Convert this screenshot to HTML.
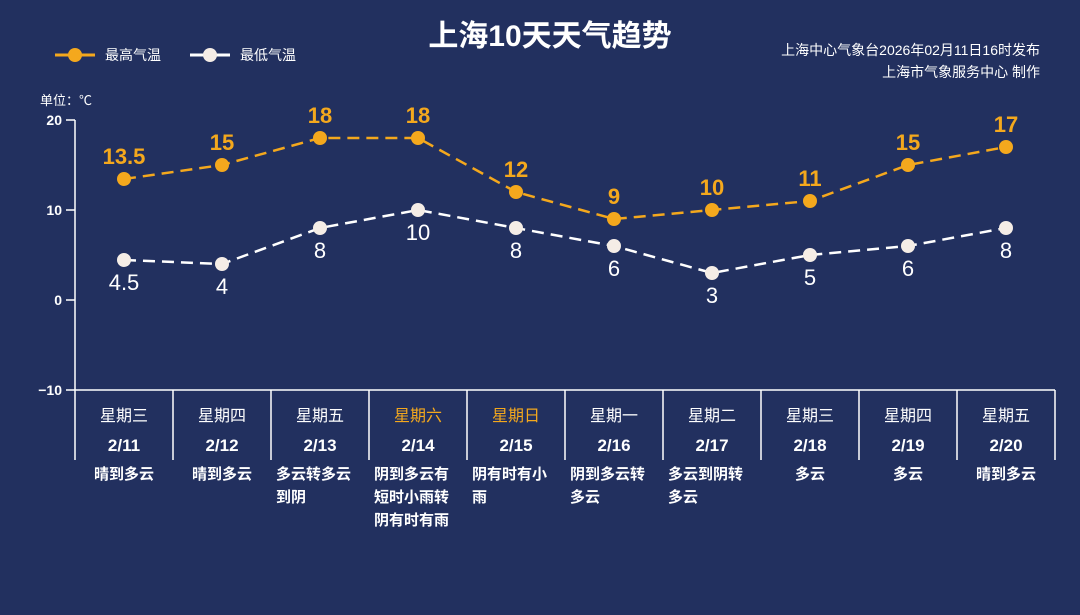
<!DOCTYPE html>
<html><head><meta charset="utf-8"><style>
body{margin:0;width:1080px;height:610px;background:#22305f;overflow:hidden}
svg text{font-family:"Liberation Sans","Noto Sans CJK SC",sans-serif}
</style></head><body>
<svg width="1080" height="610" xmlns="http://www.w3.org/2000/svg">
<rect width="1080" height="610" fill="#22305f"/>
<text x="550" y="46" font-size="30" font-weight="bold" fill="#fff" text-anchor="middle">上海10天天气趋势</text>
<line x1="55" y1="55" x2="95" y2="55" stroke="#f4a81d" stroke-width="3"/><circle cx="75" cy="55" r="7" fill="#f4a81d"/>
<text x="105" y="60" font-size="14" fill="#fff">最高气温</text>
<line x1="190" y1="55" x2="230" y2="55" stroke="#fff" stroke-width="3"/><circle cx="210" cy="55" r="7" fill="#f5ede6"/>
<text x="240" y="60" font-size="14" fill="#fff">最低气温</text>
<text x="1040" y="55" font-size="14" fill="#fff" text-anchor="end">上海中心气象台2026年02月11日16时发布</text>
<text x="1040" y="77" font-size="14" fill="#fff" text-anchor="end">上海市气象服务中心 制作</text>
<text x="40" y="105" font-size="13" fill="#fff">单位：℃</text>
<g stroke="#fff" stroke-width="1.5">
<line x1="75" y1="120" x2="75" y2="460"/>
<line x1="66" y1="120" x2="75" y2="120"/><line x1="66" y1="210" x2="75" y2="210"/><line x1="66" y1="300" x2="75" y2="300"/>
<line x1="66" y1="390" x2="1055" y2="390"/>
<line x1="173" y1="390" x2="173" y2="460"/><line x1="271" y1="390" x2="271" y2="460"/><line x1="369" y1="390" x2="369" y2="460"/><line x1="467" y1="390" x2="467" y2="460"/><line x1="565" y1="390" x2="565" y2="460"/><line x1="663" y1="390" x2="663" y2="460"/><line x1="761" y1="390" x2="761" y2="460"/><line x1="859" y1="390" x2="859" y2="460"/><line x1="957" y1="390" x2="957" y2="460"/><line x1="1055" y1="390" x2="1055" y2="460"/>
</g>
<g font-size="14" font-weight="bold" fill="#fff" text-anchor="end">
<text x="62" y="125">20</text><text x="62" y="215">10</text><text x="62" y="305">0</text><text x="62" y="395">−10</text></g>
<polyline fill="none" stroke="#f4a81d" stroke-width="2.5" stroke-dasharray="12,7" points="124,179 222,165 320,138 418,138 516,192 614,219 712,210 810,201 908,165 1006,147"/>
<polyline fill="none" stroke="#fff" stroke-width="2.5" stroke-dasharray="12,7" points="124,260 222,264 320,228 418,210 516,228 614,246 712,273 810,255 908,246 1006,228"/>
<g fill="#f4a81d"><circle cx="124" cy="179" r="7"/><circle cx="222" cy="165" r="7"/><circle cx="320" cy="138" r="7"/><circle cx="418" cy="138" r="7"/><circle cx="516" cy="192" r="7"/><circle cx="614" cy="219" r="7"/><circle cx="712" cy="210" r="7"/><circle cx="810" cy="201" r="7"/><circle cx="908" cy="165" r="7"/><circle cx="1006" cy="147" r="7"/></g>
<g fill="#f5ede6"><circle cx="124" cy="260" r="7"/><circle cx="222" cy="264" r="7"/><circle cx="320" cy="228" r="7"/><circle cx="418" cy="210" r="7"/><circle cx="516" cy="228" r="7"/><circle cx="614" cy="246" r="7"/><circle cx="712" cy="273" r="7"/><circle cx="810" cy="255" r="7"/><circle cx="908" cy="246" r="7"/><circle cx="1006" cy="228" r="7"/></g>
<g font-size="22" font-weight="bold" fill="#f4a81d" text-anchor="middle">
<text x="124" y="164">13.5</text><text x="222" y="150">15</text><text x="320" y="123">18</text><text x="418" y="123">18</text><text x="516" y="177">12</text><text x="614" y="204">9</text><text x="712" y="195">10</text><text x="810" y="186">11</text><text x="908" y="150">15</text><text x="1006" y="132">17</text></g>
<g font-size="22" fill="#fff" text-anchor="middle">
<text x="124" y="290">4.5</text><text x="222" y="294">4</text><text x="320" y="258">8</text><text x="418" y="240">10</text><text x="516" y="258">8</text><text x="614" y="276">6</text><text x="712" y="303">3</text><text x="810" y="285">5</text><text x="908" y="276">6</text><text x="1006" y="258">8</text></g>
<g font-size="16" fill="#fff" text-anchor="middle">
<text x="124" y="421">星期三</text><text x="222" y="421">星期四</text><text x="320" y="421">星期五</text><text x="418" y="421" fill="#f4a81d">星期六</text><text x="516" y="421" fill="#f4a81d">星期日</text><text x="614" y="421">星期一</text><text x="712" y="421">星期二</text><text x="810" y="421">星期三</text><text x="908" y="421">星期四</text><text x="1006" y="421">星期五</text></g>
<g font-size="17" font-weight="bold" fill="#fff" text-anchor="middle">
<text x="124" y="451">2/11</text><text x="222" y="451">2/12</text><text x="320" y="451">2/13</text><text x="418" y="451">2/14</text><text x="516" y="451">2/15</text><text x="614" y="451">2/16</text><text x="712" y="451">2/17</text><text x="810" y="451">2/18</text><text x="908" y="451">2/19</text><text x="1006" y="451">2/20</text></g>
<g font-size="15" font-weight="bold" fill="#fff">
<text x="124" y="479" text-anchor="middle">晴到多云</text><text x="222" y="479" text-anchor="middle">晴到多云</text>
<text x="276" y="479">多云转多云</text><text x="276" y="502">到阴</text>
<text x="374" y="479">阴到多云有</text><text x="374" y="502">短时小雨转</text><text x="374" y="525">阴有时有雨</text>
<text x="472" y="479">阴有时有小</text><text x="472" y="502">雨</text>
<text x="570" y="479">阴到多云转</text><text x="570" y="502">多云</text>
<text x="668" y="479">多云到阴转</text><text x="668" y="502">多云</text>
<text x="810" y="479" text-anchor="middle">多云</text><text x="908" y="479" text-anchor="middle">多云</text><text x="1006" y="479" text-anchor="middle">晴到多云</text>
</g>
</svg>
</body></html>
